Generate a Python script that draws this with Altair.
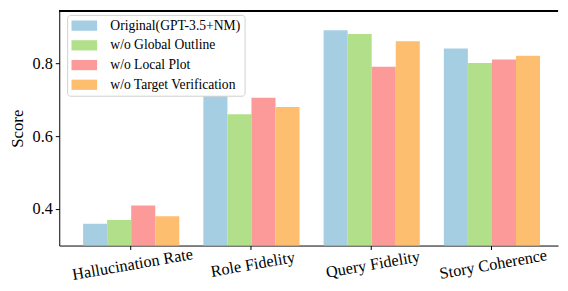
import altair as alt
import pandas as pd

categories = ["Hallucination Rate", "Role Fidelity", "Query Fidelity", "Story Coherence"]
models = ["Original(GPT-3.5+NM)", "w/o Global Outline", "w/o Local Plot", "w/o Target Verification"]
original = [0.36, 0.71, 0.89, 0.84]
no_global = [0.37, 0.66, 0.88, 0.80]
no_local = [0.41, 0.705, 0.79, 0.81]
no_target = [0.38, 0.68, 0.86, 0.82]
colors = ["#a6cee3", "#b2df8a", "#fb9a99", "#fdbf6f"]

series = [original, no_global, no_local, no_target]
rows = []
for m, vals in zip(models, series):
    for c, v in zip(categories, vals):
        rows.append({"metric": c, "model": m, "score": v})
df = pd.DataFrame(rows)

W = 506
H = 238
FONT = "Liberation Serif"

bars = alt.Chart(df).mark_bar(clip=True).encode(
    x=alt.X("metric:N", sort=categories,
            scale=alt.Scale(paddingInner=0.2, paddingOuter=0.174, align=0.57),
            axis=alt.Axis(title=None, labelAngle=350, labelAlign="center", labelBaseline="top",
                          labelPadding=7, tickSize=4, labelFontSize=16.5)),
    xOffset=alt.XOffset("model:N", sort=models, scale=alt.Scale(paddingInner=0, paddingOuter=0)),
    y=alt.Y("score:Q", scale=alt.Scale(domain=[0.3, 0.943], nice=False, zero=False),
            axis=alt.Axis(title="Score", values=[0.4, 0.6, 0.8], format=".1f", grid=False,
                          tickSize=4, labelPadding=3, titlePadding=6, labelFontSize=16.5,
                          titleFontSize=17, titleFontWeight="normal")),
    color=alt.Color("model:N", sort=models,
                    scale=alt.Scale(domain=models, range=colors),
                    legend=alt.Legend(title=None, orient="none", legendX=8, legendY=4,
                                      symbolType="M-1,-0.8h4v1.6h-4z", symbolSize=169,
                                      symbolStrokeWidth=0, symbolOpacity=1,
                                      labelFont=FONT, labelFontSize=13.8, labelOffset=26,
                                      labelFontWeight="normal",
                                      rowPadding=5, padding=4, strokeColor="#d0d0d0",
                                      fillColor="white", cornerRadius=3)),
)

top = alt.Chart(df).mark_rule(color="black", strokeWidth=1).encode(
    x=alt.value(0), x2=alt.value(W), y=alt.value(0)
)

chart = alt.layer(bars, top).properties(
    width=W, height=H,
    autosize=alt.AutoSizeParams(type="none"),
    padding={"left": 52, "top": 1, "right": 2, "bottom": 36},
).configure(font=FONT).configure_view(stroke=None).configure_axis(
    labelFont=FONT, titleFont=FONT, labelColor="black", titleColor="black",
    domainColor="black", tickColor="black", domainWidth=1
).configure_legend(
    labelFont=FONT, labelColor="black", labelFontSize=13.8
)

chart.save("out.html", embed_options={"renderer": "svg", "actions": False})
